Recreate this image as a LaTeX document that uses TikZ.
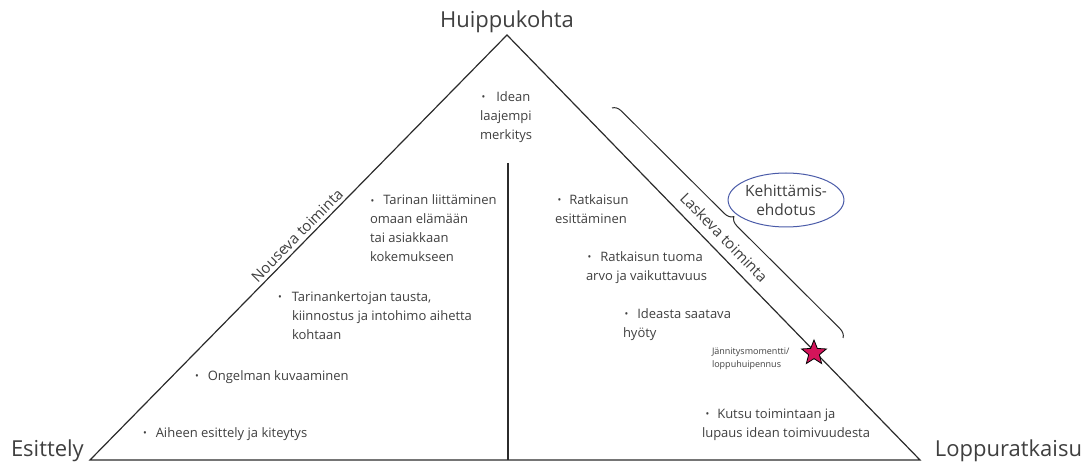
\documentclass[tikz,border=0pt]{standalone}
\usepackage{fontspec}
\setmainfont{Open Sans}
\usetikzlibrary{shapes.geometric,decorations.pathreplacing}
\definecolor{txt}{HTML}{3F3F3F}
\definecolor{ln}{HTML}{2B2B2B}
\definecolor{ellblue}{HTML}{4A5BA8}
\definecolor{starred}{HTML}{D4145A}
\newcommand{\bul}{\raisebox{0.6pt}{\fontsize{10}{10}\selectfont •}}
\begin{document}
\begin{tikzpicture}[x=1pt,y=-1pt,
  every node/.style={inner sep=0pt, outer sep=0pt, text=txt},
  body/.style={font=\fontsize{13}{18.8}\selectfont, align=left, anchor=base west},
  big/.style={font=\fontsize{22}{26}\selectfont},
  side/.style={font=\fontsize{15}{18}\selectfont, sloped, above=4pt},
  edgeline/.style={draw=ln, line width=1.2pt}]
\useasboundingbox (0,0) rectangle (1084,462);
\coordinate (A) at (507,35);
\coordinate (L) at (90,460);
\coordinate (R) at (920,460);
\coordinate (D1) at (508,163);
\coordinate (D2) at (508,460);
\coordinate (B1) at (612,108);
\coordinate (B2) at (843,338);
\draw[edgeline, line join=miter] (L) -- (A) -- (R) -- cycle;
\draw[edgeline] (D1) -- (D2);
\path (L) -- (A) node[side, pos=0.513] (nous) {Nouseva toiminta};
\path (A) -- (R) node[side, pos=0.50, above=5pt] (lask) {Laskeva toiminta};
\draw[ln, line width=1pt, decorate, decoration={brace, amplitude=9pt}] (B1) -- (B2);
\node[draw=ellblue, line width=1pt, ellipse, minimum width=104pt, minimum height=54pt,
  font=\fontsize{15.5}{19}\selectfont, align=center] (kehi) at (786,200) {Kehittämis-\\ehdotus};
\node[star, star points=5, star point ratio=2.3, minimum size=26pt, fill=starred,
  draw=black, line width=0.8pt] (star) at (814,353) {};
\node[font=\fontsize{9}{12.5}\selectfont, align=left, anchor=base west] (jann) at (712,367) {Jännitysmomentti/\\loppuhuipennus};
\node[big, anchor=base] (huip) at (507,27.5) {Huippukohta};
\node[big, anchor=base west] (esit) at (11,456) {Esittely};
\node[big, anchor=base east] (lopp) at (1082,456) {Loppuratkaisu};
\node[body] (b1) at (480,139.1) {\hspace*{1.5pt}\bul\hspace{11pt}Idean\\laajempi\\merkitys};
\node[body] (b2) at (370,261.4) {\hspace*{0.5pt}\bul\hspace{9pt}Tarinan liittäminen\\omaan elämään\\tai asiakkaan\\kokemukseen};
\node[body] (b3) at (278,339.1) {\bul\hspace{10pt}Tarinankertojan tausta,\\\hspace*{14pt}kiinnostus ja intohimo aihetta\\\hspace*{14pt}kohtaan};
\node[body] (b4) at (195,380) {\bul\hspace{9pt}Ongelman kuvaaminen};
\node[body] (b5) at (143,437) {\bul\hspace{9pt}Aiheen esittely ja kiteytys};
\node[body] (b6) at (555,223.3) {\hspace*{2.5pt}\bul\hspace{8pt}Ratkaisun\\esittäminen};
\node[body] (b7) at (586,280.3) {\hspace*{1.5pt}\bul\hspace{9pt}Ratkaisun tuoma\\arvo ja vaikuttavuus};
\node[body] (b8) at (623,337.3) {\hspace*{1.5pt}\bul\hspace{9pt}Ideasta saatava\\hyöty};
\node[body] (b9) at (702,437.3) {\hspace*{3.5pt}\bul\hspace{8pt}Kutsu toimintaan ja\\lupaus idean toimivuudesta};
\end{tikzpicture}
\end{document}
